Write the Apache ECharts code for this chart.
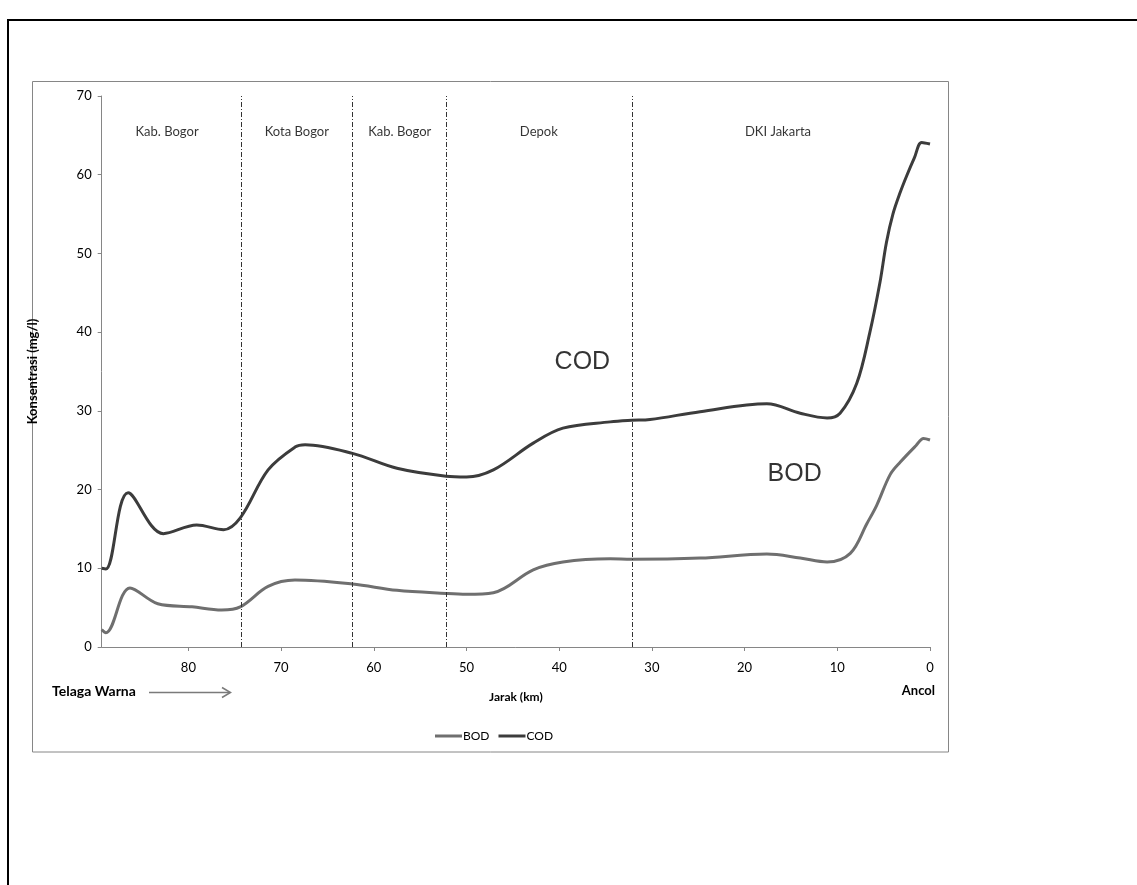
<!DOCTYPE html>
<html>
<head>
<meta charset="utf-8">
<script src="https://cdn.jsdelivr.net/npm/echarts@6/dist/echarts.min.js"></script>
<style>
html,body{margin:0;padding:0;background:#fff;}
#chart{width:1137px;height:885px;}
</style>
</head>
<body>
<div id="chart"></div>
<script>
// ---- data ----
const codKm  = [89.35, 88.9, 86.5, 82.7, 79.1, 76.2, 74.4, 71.4, 68.5, 67.4, 62.3, 57.5, 52.2, 50.0, 47.1, 42.8, 39.6, 34.5, 32.2, 30.2, 24.8, 17.6, 14.0, 11.1, 9.7, 7.9, 6.5, 5.4, 4.7, 4.0, 3.2, 2.5, 1.7, 0.9, 0];
const codVal = [10.0, 9.9, 19.6, 14.4, 15.5, 14.9, 16.4, 22.5, 25.4, 25.7, 24.6, 22.7, 21.7, 21.6, 22.5, 25.9, 27.8, 28.6, 28.8, 28.9, 29.9, 30.9, 29.7, 29.1, 29.7, 33.5, 39.9, 46.3, 51.4, 55.0, 57.8, 59.9, 62.1, 64.1, 63.9];
const bodKm  = [89.35, 88.9, 86.3, 83.3, 79.6, 76.4, 74.4, 71.4, 68.5, 62.3, 57.5, 52.2, 50.0, 47.1, 42.8, 39.6, 34.5, 32.2, 24.8, 17.6, 14.0, 11.1, 8.6, 6.8, 5.75, 4.3, 3.2, 1.5, 0.7, 0];
const bodVal = [2.2, 1.8, 7.5, 5.5, 5.1, 4.7, 5.1, 7.7, 8.5, 8.0, 7.2, 6.8, 6.7, 6.9, 9.8, 10.8, 11.2, 11.15, 11.3, 11.8, 11.3, 10.8, 11.9, 15.7, 18.0, 21.9, 23.5, 25.6, 26.5, 26.3];
const boundaryKm = [74.3, 62.35, 52.2, 32.1];
const regionNames = ['Kab. Bogor', 'Kota Bogor', 'Kab. Bogor', 'Depok', 'DKI Jakarta'];
const regionKm = [82.3, 68.3, 57.2, 42.2, 16.4];
const regionY = 65.5;
const seriesTagNames = ['COD', 'BOD'];
const seriesTagKm = [37.5, 14.6];
const seriesTagY = [36.2, 22.0];
const xTicks = [0, 10, 20, 30, 40, 50, 60, 70, 80];
const xMax = 89.35;

const FONT = 'Lato, "Open Sans", sans-serif';
const pair = (xs, ys) => xs.map((x, i) => [x, ys[i]]);

const chart = echarts.init(document.getElementById('chart'), null, {renderer: 'canvas'});
const option = {
  backgroundColor: '#fff',
  animation: false,
  textStyle: {fontFamily: FONT},
  grid: {left: 101.7, right: 207, top: 96, bottom: 238, containLabel: false},
  xAxis: {
    type: 'value', inverse: true, min: 0, max: xMax,
    name: 'Jarak (km)', nameLocation: 'middle', nameGap: 44,
    nameTextStyle: {fontFamily: FONT, fontSize: 12, fontWeight: 'bold', color: '#000'},
    axisLine: {show: true, onZero: false, lineStyle: {color: '#868686', width: 1}},
    axisTick: {show: true, length: 4, inside: false, customValues: xTicks, lineStyle: {color: '#868686'}},
    axisLabel: {customValues: xTicks, fontFamily: FONT, fontSize: 13, color: '#000', margin: 14},
    splitLine: {show: false}
  },
  yAxis: {
    type: 'value', min: 0, max: 70, interval: 10, position: 'left',
    name: 'Konsentrasi (mg/l)', nameLocation: 'middle', nameGap: 62, nameRotate: 90,
    nameTextStyle: {fontFamily: FONT, fontSize: 13, fontWeight: 'bold', color: '#000'},
    axisLine: {show: true, onZero: false, lineStyle: {color: '#868686', width: 1}},
    axisTick: {show: true, length: 4, inside: false, lineStyle: {color: '#868686'}},
    axisLabel: {fontFamily: FONT, fontSize: 13, color: '#000', margin: 10},
    splitLine: {show: false}
  },
  legend: {
    data: ['BOD', 'COD'],
    left: 430, top: 725,
    icon: 'rect',
    itemWidth: 27, itemHeight: 3, itemGap: 9,
    textStyle: {fontFamily: FONT, fontSize: 12, color: '#000', padding: [0, 0, 0, -4]}
  },
  series: [
    {
      name: 'BOD', type: 'line', data: pair(bodKm, bodVal),
      smooth: 0.35, symbol: 'none', showSymbol: false,
      lineStyle: {color: '#6f6f6f', width: 3}, itemStyle: {color: '#6f6f6f'}, z: 3,
      markLine: {
        silent: true, symbol: ['none', 'none'], label: {show: false},
        lineStyle: {color: '#333', width: 1, type: [5, 2, 1, 2]},
        data: boundaryKm.map(v => ({xAxis: v}))
      }
    },
    {
      name: 'COD', type: 'line', data: pair(codKm, codVal),
      smooth: 0.35, symbol: 'none', showSymbol: false,
      lineStyle: {color: '#3c3c3c', width: 3}, itemStyle: {color: '#3c3c3c'}, z: 4
    },
    {
      name: 'regions', type: 'scatter', symbolSize: 0, silent: true,
      data: regionNames.map((n, i) => ({name: n, value: [regionKm[i], regionY]})),
      label: {show: true, position: 'inside', formatter: p => p.name, fontFamily: FONT, fontSize: 13, color: '#000'}
    },
    {
      name: 'tags', type: 'scatter', symbolSize: 0, silent: true,
      data: seriesTagNames.map((n, i) => ({name: n, value: [seriesTagKm[i], seriesTagY[i]]})),
      label: {show: true, position: 'inside', formatter: p => p.name, fontFamily: 'Liberation Sans, Arial, sans-serif', fontSize: 25, color: '#000'}
    }
  ],
  graphic: [
    {type: 'polyline', silent: true, shape: {points: [[8, 900], [8, 20], [1150, 20]]}, style: {stroke: '#000', lineWidth: 2, fill: null}},
    {type: 'rect', silent: true, shape: {x: 32.5, y: 81.5, width: 916, height: 670.5}, style: {stroke: '#868686', lineWidth: 1, fill: null}},
    {type: 'text', silent: true, x: 52, y: 691, style: {text: 'Telaga Warna', font: 'bold 14px ' + FONT, fill: '#000', textVerticalAlign: 'middle', verticalAlign: 'middle'}},
    {type: 'line', silent: true, shape: {x1: 149, y1: 692.5, x2: 230, y2: 692.5}, style: {stroke: '#7a7a7a', lineWidth: 1.5}},
    {type: 'polyline', silent: true, shape: {points: [[222, 687.5], [230.5, 692.5], [222, 697.5]]}, style: {stroke: '#7a7a7a', lineWidth: 1.5, fill: null}},
    {type: 'text', silent: true, x: 935, y: 691, style: {text: 'Ancol', font: 'bold 13px ' + FONT, fill: '#000', align: 'right', textAlign: 'right', verticalAlign: 'middle', textVerticalAlign: 'middle'}}
  ]
};
chart.setOption(option);
</script>
</body>
</html>
